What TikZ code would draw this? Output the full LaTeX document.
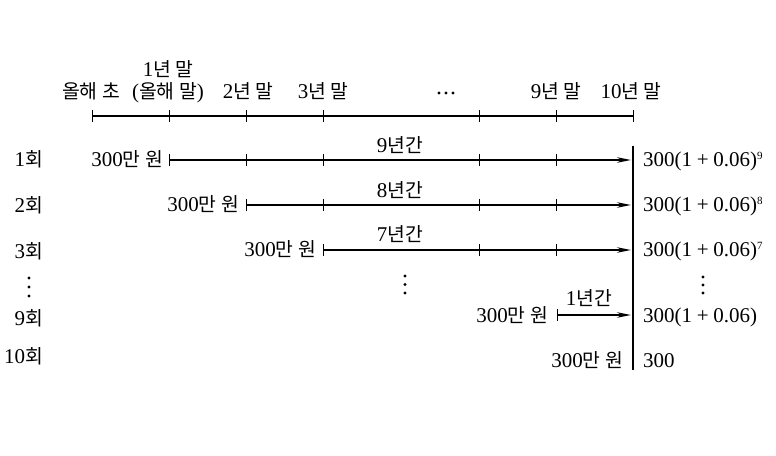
\documentclass[tikz,border=0pt]{standalone}
\usepackage{fontspec}
\setmainfont{Liberation Serif}
\newfontfamily\kr[Scale=0.92]{Noto Sans CJK KR}
\newcommand\K[1]{{\kr #1}}
\newcommand\pls{\hspace{0.22em}+\hspace{0.22em}}
\usetikzlibrary{arrows.meta}
\begin{document}
\begin{tikzpicture}[x=1bp,y=-1bp,
  font=\fontsize{21bp}{25bp}\selectfont,
  lbl/.style={inner sep=0pt},
  axisline/.style={line width=1.3bp},
  tickline/.style={line width=0.8bp},
  flow/.style={line width=1.3bp,{Bar[width=12bp,line width=0.9bp]}-{Stealth[length=14bp,width=5.5bp]}},
  dotc/.style={circle,fill,inner sep=0pt,minimum size=3.4bp}]
\useasboundingbox (0,0) rectangle (776,456);
% top axis
\coordinate (a0) at (92,116);
\coordinate (a1) at (169,116);
\coordinate (a2) at (246,116);
\coordinate (a3) at (323,116);
\coordinate (a4) at (479,116);
\coordinate (a5) at (556,116);
\coordinate (a6) at (633,116);
\draw[axisline] (a0) -- (a6);
\foreach \i in {0,...,6} \draw[tickline] ([yshift=-6bp]a\i) -- ([yshift=6bp]a\i);
% top labels
\node[lbl,anchor=base] (t0) at (91,99) {\K{올해 초}};
\node[lbl,anchor=base] (t1) at (168,99) {(\K{올해 말})};
\node[lbl,anchor=base] (t1b) at (168,77) {1\K{년 말}};
\node[lbl,anchor=base] (t2) at (248,99) {2\K{년 말}};
\node[lbl,anchor=base] (t3) at (323,99) {3\K{년 말}};
\node[dotc] (td1) at (439,93) {};
\node[dotc] (td2) at (446,93) {};
\node[dotc] (td3) at (453,93) {};
\node[lbl,anchor=base] (t5) at (556,99) {9\K{년 말}};
\node[lbl,anchor=base] (t6) at (631,99) {10\K{년 말}};
% vertical line
\coordinate (v0) at (633,146);
\coordinate (v1) at (633,370);
\draw[line width=1.1bp] (v0) -- (v1);
% row labels left
\node[lbl,anchor=base east] (r1) at (43,167) {1\K{회}};
\node[lbl,anchor=base east] (r2) at (43,213) {2\K{회}};
\node[lbl,anchor=base east] (r3) at (43,259) {3\K{회}};
\node[dotc] (rd1) at (29,278) {};
\node[dotc] (rd2) at (29,287) {};
\node[dotc] (rd3) at (29,296) {};
\node[lbl,anchor=base east] (r9) at (43,326) {9\K{회}};
\node[lbl,anchor=base east] (r10) at (43,364) {10\K{회}};
% row 1
\coordinate (p1) at (169,160);
\coordinate (q1) at (631,160);
\draw[flow] (p1) -- (q1);
\foreach \x in {246,323,479,556} \draw[tickline] (\x,154) -- (\x,166);
\node[lbl,anchor=base east] (s1) at (163,167) {300\K{만 원}};
\node[lbl,anchor=base] (n1) at (400,153) {9\K{년간}};
\node[lbl,anchor=base west] (e1) at (643,167) {300(1\pls0.06)\textsuperscript{\fontsize{11bp}{12bp}\selectfont 9}};
% row 2
\coordinate (p2) at (246,205);
\coordinate (q2) at (631,205);
\draw[flow] (p2) -- (q2);
\foreach \x in {323,479,556} \draw[tickline] (\x,199) -- (\x,211);
\node[lbl,anchor=base east] (s2) at (239,212) {300\K{만 원}};
\node[lbl,anchor=base] (n2) at (400,198) {8\K{년간}};
\node[lbl,anchor=base west] (e2) at (643,212) {300(1\pls0.06)\textsuperscript{\fontsize{11bp}{12bp}\selectfont 8}};
% row 3
\coordinate (p3) at (323,250);
\coordinate (q3) at (631,250);
\draw[flow] (p3) -- (q3);
\foreach \x in {479,556} \draw[tickline] (\x,244) -- (\x,256);
\node[lbl,anchor=base east] (s3) at (316,257) {300\K{만 원}};
\node[lbl,anchor=base] (n3) at (400,242) {7\K{년간}};
\node[lbl,anchor=base west] (e3) at (643,257) {300(1\pls0.06)\textsuperscript{\fontsize{11bp}{12bp}\selectfont 7}};
% middle and right dots
\node[dotc] (md1) at (405,276) {};
\node[dotc] (md2) at (405,284.5) {};
\node[dotc] (md3) at (405,293) {};
\node[dotc] (ed1) at (703,277) {};
\node[dotc] (ed2) at (703,285) {};
\node[dotc] (ed3) at (703,293) {};
% row 9
\coordinate (p9) at (557,315);
\coordinate (q9) at (631,315);
\draw[flow] (p9) -- (q9);
\node[lbl,anchor=base east] (s9) at (548,323) {300\K{만 원}};
\node[lbl,anchor=base] (n9) at (589,306) {1\K{년간}};
\node[lbl,anchor=base west] (e9) at (643,323) {300(1\pls0.06)};
% row 10
\node[lbl,anchor=base east] (s10) at (623,368) {300\K{만 원}};
\node[lbl,anchor=base west] (e10) at (643,368) {300};
\end{tikzpicture}
\end{document}
